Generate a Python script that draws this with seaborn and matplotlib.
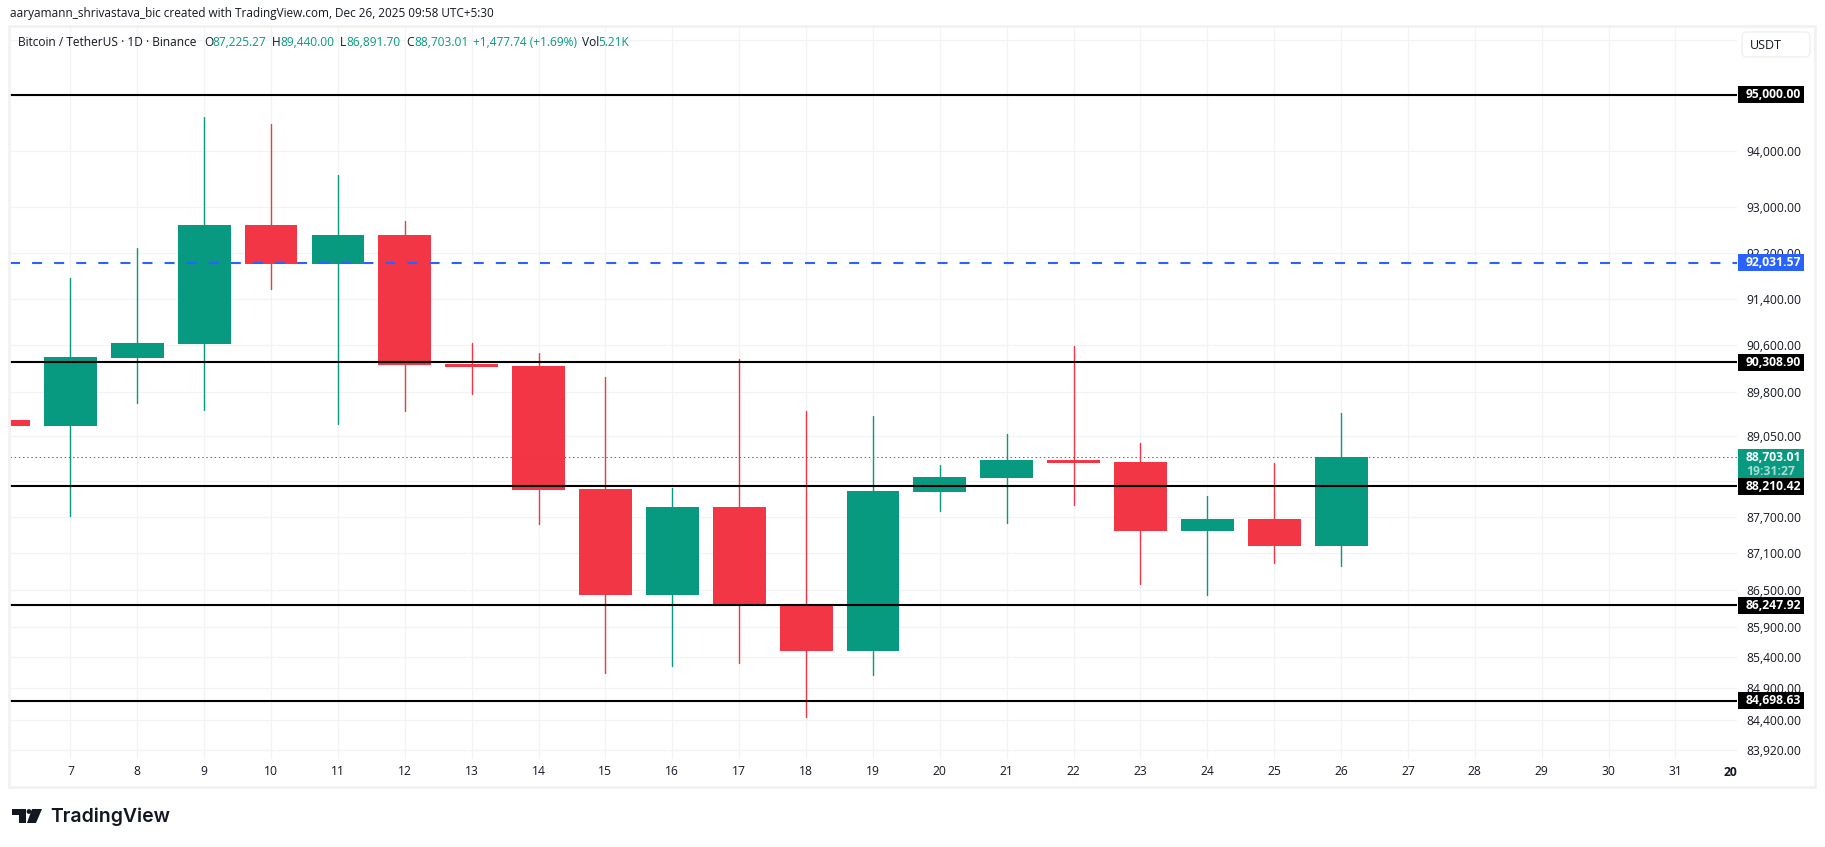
import matplotlib
matplotlib.use("Agg")
import matplotlib.pyplot as plt
import pandas as pd
import seaborn as sns
from matplotlib.patches import Rectangle, FancyBboxPatch, Polygon, Circle
from matplotlib.transforms import IdentityTransform, Bbox

# Candles (day of December 2025)
days = [6, 7, 8, 9, 10, 11, 12, 13, 14, 15, 16, 17, 18, 19, 20, 21, 22, 23, 24, 25, 26]
opens = [89328, 89227, 90384, 90624, 92690, 92008, 92514, 90281, 90247, 88169, 86417,
         87869, 86248, 85505, 88119, 88353, 88655, 88621, 87470, 87669, 87225.27]
highs = [89328, 91764, 92286, 94605, 94480, 93571, 92760, 90641, 90470, 90059, 88186,
         90367, 89481, 89396, 88571, 89093, 90590, 88940, 88052, 88604, 89440.00]
lows = [89227, 87719, 89617, 89498, 91573, 89261, 89481, 89770, 87586, 85150, 85263,
        85311, 84444, 85118, 87802, 87603, 87902, 86597, 86417, 86941, 86891.70]
closes = [89227, 90401, 90641, 92690, 92008, 92514, 90264, 90230, 88153, 86417, 87869,
          86262, 85505, 88136, 88370, 88655, 88604, 87470, 87669, 87225, 88703.01]

# Drawn levels and price scale
black_levels = [95000.00, 90308.90, 88210.42, 86247.92, 84698.63]
blue_level = 92031.57
last_price = 88703.01
countdown = "19:31:27"
price_ticks = [96000, 95000, 94000, 93000, 92200, 91400, 90600, 89800, 89050, 88300,
               87700, 87100, 86500, 85900, 85400, 84900, 84400, 83920]
# these only leave a grid line, their labels sit under the boxes
covered_ticks = [96000, 95000, 88300]
day_ticks = list(range(7, 32))

GREEN = "#089981"
RED = "#F23645"
BLUE = "#2962FF"
INK = "#131722"
GRID = "#F2F3F5"
FRAME = "#F2F2F3"
W, H = 1825, 847
FS = 8.7

sns.set_theme(style="white")
plt.rcParams["font.family"] = ["Open Sans", "DejaVu Sans"]

fig = plt.figure(figsize=(W / 100, H / 100), dpi=100)
ax = fig.add_axes([10 / W, 1 - 759 / H, (1737 - 10) / W, (759 - 27) / H])


def fx(x):
    return x / W


def fy(y):
    return 1 - y / H


ax.set_yscale("log")
ax.set_xlim(6.096, 31.92)
ax.set_ylim(83772, 96231)
ax.set_axisbelow(True)
ax.grid(True, color=GRID, linewidth=0.9)

# Wicks
wicks = pd.DataFrame({
    "day": days + days,
    "price": highs + lows,
    "side": ["up" if c >= o else "down" for o, c in zip(opens, closes)] * 2,
})
sns.lineplot(data=wicks, x="day", y="price", hue="side", units="day", estimator=None,
             palette={"up": GREEN, "down": RED}, linewidth=1.0, legend=False, sort=False, ax=ax)

# Bodies
for d, o, c in zip(days, opens, closes):
    col = GREEN if c >= o else RED
    ax.bar(d, abs(c - o), bottom=min(o, c), width=0.79, color=col, linewidth=0, zorder=3)

# Horizontal levels
for lv in black_levels:
    ax.axhline(lv, color="black", linewidth=1.5, zorder=5)
ax.axhline(blue_level, color=BLUE, linewidth=1.5, dashes=(4.8, 5.8), dash_capstyle="butt", zorder=5)
ax.axhline(last_price, color=GREEN, linewidth=0.75, dashes=(1.4, 2.6), zorder=4)

# Axes text
ax.yaxis.tick_right()
ax.set_yticks(price_ticks)
ax.set_yticklabels(["" if v in covered_ticks else f"{v:,.2f}" for v in price_ticks])
ax.minorticks_off()
ax.set_xticks(day_ticks)
ax.set_xticklabels([str(d) for d in day_ticks])
ax.tick_params(axis="y", length=0, pad=6.5, labelsize=FS, labelcolor=INK)
ax.tick_params(axis="x", length=0, pad=4.5, labelsize=FS, labelcolor=INK)
ax.set_xlabel("")
ax.set_ylabel("")
sns.despine(ax=ax, left=True, bottom=True, top=True, right=True)

# 2026 label is cut off by the price scale
year = fig.text(fx(1737.5), fy(772), "2026", ha="center", va="center", fontsize=FS,
                fontweight="bold", color=INK)
year.set_clip_box(Bbox([[0, 0], [1737, H]]))
year.set_clip_on(True)

# Chart frame
fig.add_artist(Rectangle((fx(9), fy(787)), fx(1815 - 9), (787 - 26) / H, fill=False,
                         edgecolor=FRAME, linewidth=2, transform=fig.transFigure, zorder=1))


def price_box(level, color, height=17, top_pad=None):
    # box centred on the level, in screen pixels
    y = ax.transData.transform((0, level))[1]
    top = y + height / 2 if top_pad is None else y + top_pad
    fig.add_artist(Rectangle((1738, top - height), 66, height, facecolor=color, edgecolor="none",
                             transform=IdentityTransform(), zorder=5))
    return y


# black boxes last: the 88,210.42 one sits on the green box
y = price_box(blue_level, BLUE)
fig.text(1746 / W, y / H, f"{blue_level:,.2f}", color="white", fontsize=FS, fontweight="bold",
         va="center", ha="left", zorder=7)

y = price_box(last_price, GREEN, height=31, top_pad=8)
fig.text(1746 / W, y / H, f"{last_price:,.2f}", color="white", fontsize=FS, fontweight="bold",
         va="center", ha="left", zorder=7)
fig.text(1746 / W, (y - 14) / H, countdown, color="#A6DCD0", fontsize=FS, fontweight="bold",
         va="center", ha="left", zorder=7)

for lv in black_levels:
    y = price_box(lv, "black")
    fig.text(1746 / W, y / H, f"{lv:,.2f}", color="white", fontsize=FS, fontweight="bold",
             va="center", ha="left", zorder=7)

# USDT button
fig.add_artist(FancyBboxPatch((1743, H - 56), 66, 23, boxstyle="round,pad=1,rounding_size=5",
                              facecolor="white", edgecolor=FRAME, linewidth=1.2,
                              transform=IdentityTransform(), zorder=5))
fig.text(fx(1750), fy(45.5), "USDT", color=INK, fontsize=9, va="center", ha="left", zorder=7)

# Header
fig.text(fx(10), fy(13), "aaryamann_shrivastava_bic created with TradingView.com, Dec 26, 2025 09:58 UTC+5:30",
         color=INK, fontsize=8.45, va="center", ha="left")
legend_y = fy(43)
legend_parts = [
    (18, "Bitcoin / TetherUS · 1D · Binance", INK),
    (204, "O", INK), (212, "87,225.27", GREEN),
    (272, "H", INK), (280, "89,440.00", GREEN),
    (340, "L", INK), (346, "86,891.70", GREEN),
    (406, "C", INK), (414, "88,703.01", GREEN),
    (473, "+1,477.74 (+1.69%)", GREEN),
    (582, "Vol", INK), (598, "5.21K", GREEN),
]
for px, txt, col in legend_parts:
    fig.text(fx(px), legend_y, txt, color=col, fontsize=8.6, va="center", ha="left", zorder=7)

# TradingView logo
logo = "#131722"
fig.add_artist(Polygon([(fx(12), fy(809)), (fx(26), fy(809)), (fx(26), fy(823)), (fx(18.5), fy(823)),
                        (fx(18.5), fy(814.5)), (fx(12), fy(814.5))], closed=True, facecolor=logo,
                       edgecolor="none", transform=fig.transFigure, zorder=6))
fig.add_artist(Polygon([(fx(32), fy(809)), (fx(42), fy(809)), (fx(36), fy(823)), (fx(27), fy(823))],
                       closed=True, facecolor=logo, edgecolor="none",
                       transform=fig.transFigure, zorder=6))
fig.add_artist(Circle((29, H - 811.5), 2.4, facecolor=logo, edgecolor="none",
                      transform=IdentityTransform(), zorder=6))
fig.text(fx(50), fy(817), "TradingView", color=logo, fontsize=14, fontweight=600,
         family="Inter", va="center", ha="left")

plt.savefig("out.png", dpi=100)
